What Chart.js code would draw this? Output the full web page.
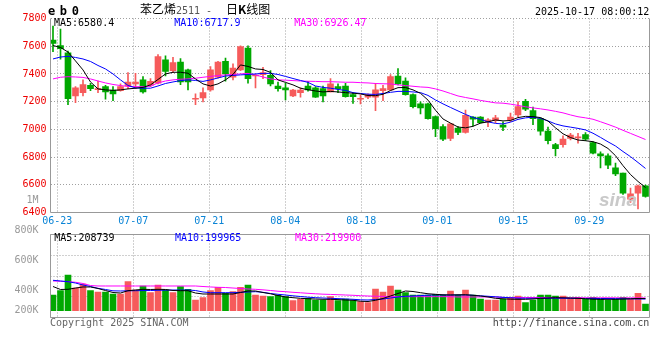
<!DOCTYPE html>
<html><head><meta charset="utf-8"><title>eb0 日K线图</title>
<script src="https://cdn.jsdelivr.net/npm/chart.js@4.4.1/dist/chart.umd.min.js"></script>
<style>
html,body{margin:0;padding:0;background:#fff;}
#wrap{position:relative;width:660px;height:360px;overflow:hidden;background:#fff;}
#wrap canvas{position:absolute;left:0;top:0;}
.t{position:absolute;white-space:nowrap;font-family:"DejaVu Sans Mono",monospace;font-size:10px;line-height:12px;color:#000;}
.cjk{font-family:"Noto Sans CJK SC",sans-serif;font-size:12px;line-height:14px;}
</style></head>
<body><div id="wrap">
<canvas id="priceChart" width="660" height="360"></canvas>
<canvas id="volChart" width="660" height="360"></canvas>
<div class="t" style="left:48px;top:4px;font-weight:bold;font-size:12px;line-height:14px;letter-spacing:4.6px;">eb0</div>
<div class="t cjk" style="left:140px;top:2px;">苯乙烯</div>
<div class="t" style="left:176px;top:5px;color:#555;">2511 -</div>
<div class="t cjk" style="left:226px;top:2px;">日<b>K</b>线图</div>
<div class="t" style="right:10.7px;top:5.5px;">2025-10-17 08:00:12</div>
<div class="t" id="pl5" style="left:54px;top:17px;color:#000;"></div>
<div class="t" id="pl10" style="left:174.3px;top:17px;color:#0000ff;"></div>
<div class="t" id="pl30" style="left:294.3px;top:17px;color:#ff00ff;"></div>
<div class="t" id="vl5" style="left:54.3px;top:232px;color:#000;"></div>
<div class="t" id="vl10" style="left:175px;top:232px;color:#0000ff;"></div>
<div class="t" id="vl30" style="left:295px;top:232px;color:#ff00ff;"></div>
<div class="t" style="left:599px;top:190px;font-family:'Liberation Sans',sans-serif;font-style:italic;font-weight:bold;font-size:19px;line-height:20px;color:#c9c9c9;">sina</div>
<div class="t" style="left:50px;top:316.5px;color:#666;">Copyright 2025 SINA.COM</div>
<div class="t" style="right:10.7px;top:317px;color:#444;">http://finance.sina.com.cn</div>
</div>
<script>
// ---- data ----
const dateLabels = ['06-23','07-07','07-21','08-04','08-18','09-01','09-15','09-29'];
const volTickLabels = ['1M','800K','600K','400K','200K'];
const volTickValues = [1000000, 800000, 600000, 400000, 200000];

const opens = [7645,7604,7553,7241,7265,7318,7287,7308,7284,7280,
7313,7328,7357,7318,7333,7501,7424,7486,7429,7217,
7227,7284,7376,7491,7376,7429,7587,7385,7395,7390,
7313,7299,7241,7265,7313,7299,7294,7270,7308,7313,
7251,7217,7232,7232,7280,7285,7385,7349,7251,7184,
7184,7092,7020,6934,7010,6977,7088,7088,7054,7063,
7030,7068,7104,7203,7135,7078,6987,6890,6890,6934,
6938,6962,6905,6823,6809,6722,6684,6497,6540,6593];
const highs = [7746,7724,7564,7308,7357,7333,7349,7318,7308,7328,
7409,7405,7380,7366,7539,7530,7520,7510,7435,7256,
7299,7453,7491,7515,7472,7602,7602,7395,7448,7424,
7342,7333,7288,7299,7347,7308,7313,7366,7328,7333,
7261,7249,7256,7333,7318,7395,7438,7371,7256,7198,
7190,7097,7034,7044,7020,7140,7092,7092,7078,7102,
7054,7117,7200,7217,7160,7083,7016,6900,6953,6972,
6972,6977,6910,6838,6823,6756,6684,6576,6598,6598];
const lows = [7561,7506,7179,7193,7241,7279,7265,7217,7207,7275,
7294,7294,7261,7308,7328,7385,7409,7323,7284,7179,
7198,7275,7370,7347,7357,7424,7333,7299,7366,7313,
7275,7212,7236,7232,7275,7230,7198,7270,7265,7232,
7188,7184,7222,7135,7207,7280,7321,7246,7155,7112,
7073,6948,6919,6919,6962,6972,7025,7044,7020,7049,
6991,7056,7092,7135,7034,6958,6895,6809,6871,6924,
6900,6919,6823,6722,6717,6665,6530,6472,6425,6511];
const closes = [7620,7583,7222,7299,7323,7294,7294,7270,7255,7308,
7342,7342,7270,7347,7525,7419,7481,7342,7342,7222,
7265,7429,7486,7400,7443,7597,7366,7390,7409,7328,
7294,7284,7284,7284,7284,7232,7241,7328,7294,7236,
7236,7222,7251,7285,7294,7380,7328,7251,7164,7155,
7078,7005,6929,7039,6977,7102,7073,7049,7068,7083,
7015,7088,7164,7145,7078,6987,6919,6861,6929,6958,
6943,6929,6828,6809,6742,6679,6540,6535,6593,6516];

const ma5 = [7605,7591,7558,7494,7429,7342,7292,7285,7281,7285,
7292,7297,7303,7321,7360,7400,7412,7412,7405,7364,
7328,7313,7328,7357,7396,7465,7454,7436,7432,7411,
7357,7339,7321,7297,7286,7277,7270,7274,7270,7265,
7261,7256,7244,7243,7253,7280,7301,7302,7285,7260,
7211,7138,7075,7045,7017,7011,7022,7045,7054,7068,
7061,7064,7085,7094,7092,7085,7060,7011,6968,6941,
6923,6918,6911,6894,6862,6810,6738,6674,6624,6580.4];
const ma10 = [7508,7522,7527,7519,7508,7490,7461,7436,7400,7357,
7317,7299,7297,7297,7313,7331,7342,7352,7357,7353,
7346,7357,7371,7385,7389,7393,7396,7400,7404,7404,
7396,7382,7367,7353,7339,7313,7303,7297,7288,7281,
7265,7259,7254,7252,7259,7267,7274,7274,7270,7265,
7245,7212,7184,7158,7133,7108,7086,7072,7054,7043,
7039,7052,7072,7083,7088,7079,7061,7039,7025,7016,
7007,6996,6972,6942,6910,6880,6840,6803,6761,6717.9];
const ma30 = [7364,7376,7380,7378,7375,7364,7349,7335,7324,7316,
7310,7308,7308,7311,7335,7349,7357,7362,7364,7369,
7376,7382,7388,7393,7396,7400,7404,7393,7378,7364,
7357,7355,7352,7349,7347,7346,7344,7344,7342,7340,
7340,7337,7335,7331,7329,7328,7321,7316,7311,7306,
7303,7292,7277,7259,7241,7230,7220,7209,7200,7191,
7189,7182,7173,7163,7155,7148,7140,7130,7119,7104,
7091,7083,7073,7055,7036,7016,6993,6971,6949,6926.47];

const volumes = [270000,344000,614000,390000,459000,344000,322000,322000,287000,287000,
499000,356000,425000,310000,442000,356000,310000,413000,366000,184000,
224000,344000,401000,298000,327000,401000,442000,270000,253000,241000,
263000,241000,172000,194000,212000,184000,184000,241000,172000,201000,
172000,155000,138000,373000,322000,425000,356000,310000,270000,270000,
270000,280000,270000,339000,270000,356000,270000,201000,184000,184000,
201000,229000,253000,138000,184000,270000,270000,253000,253000,212000,
229000,194000,229000,194000,184000,194000,229000,194000,298000,115000];
const volMa5 = [416000,365000,368000,390000,408000,408000,382000,347000,313000,304000,
344000,356000,368000,365000,368000,365000,347000,344000,344000,304000,
287000,287000,287000,287000,287000,313000,339000,339000,313000,291000,
261000,236000,224000,213000,206000,201000,196000,196000,191000,184000,
179000,163000,158000,179000,210000,253000,296000,339000,330000,310000,
291000,282000,273000,270000,273000,275000,265000,253000,236000,213000,
205000,198000,196000,196000,201000,213000,218000,224000,222000,218000,
213000,205000,198000,196000,196000,196000,200000,205000,210000,208739];
const volMa10 = [523000,511000,499000,476000,442000,416000,385000,365000,342000,339000,
342000,344000,346000,347000,351000,353000,356000,356000,356000,347000,
322000,310000,310000,310000,310000,316000,322000,327000,316000,296000,
282000,270000,256000,244000,232000,224000,218000,213000,208000,201000,
196000,187000,184000,193000,201000,218000,236000,248000,253000,260000,
267000,270000,270000,270000,270000,270000,265000,256000,248000,239000,
230000,222000,215000,213000,213000,213000,214000,215000,214000,213000,
212000,211000,211000,210000,209000,208000,206000,204000,202000,199965];
const volMa30 = [511000,506000,499000,489000,468000,433000,425000,425000,425000,425000,
425000,425000,425000,425000,425000,425000,425000,425000,425000,425000,
416000,408000,402000,399000,390000,382000,373000,368000,359000,347000,
335000,327000,316000,308000,299000,291000,284000,280000,275000,270000,
265000,258000,253000,249000,246000,243000,241000,241000,241000,241000,
241000,241000,241000,241000,236000,236000,236000,236000,236000,236000,
227000,227000,227000,227000,227000,227000,227000,222000,222000,222000,
222000,222000,222000,222000,222000,222000,221000,221000,220000,219900];

// ---- legend texts from the data ----
const last = a => a[a.length - 1];
document.getElementById('pl5').textContent = 'MA5:' + last(ma5);
document.getElementById('pl10').textContent = 'MA10:' + last(ma10);
document.getElementById('pl30').textContent = 'MA30:' + last(ma30);
document.getElementById('vl5').textContent = 'MA5:' + last(volMa5);
document.getElementById('vl10').textContent = 'MA10:' + last(volMa10);
document.getElementById('vl30').textContent = 'MA30:' + last(volMa30);

// ---- styling / layout ----
const UP = '#f65b5b', DOWN = '#00a800';
const candleColors = closes.map((c, i) => c >= opens[i] ? UP : DOWN);
const X_MIN = -0.333, X_MAX = 79.533;
const GRID_START = 0.57, GRID_STEP = 10.133;
const MONO = '"DejaVu Sans Mono", monospace';
const GRID = '#a0a0a0';
const FRAME = '#999999';
const VOL_LABEL_FLOOR = 267800;

const pts = arr => arr.map((v, i) => ({x: i, y: v}));
function dateTicks(scale) {
  scale.ticks = dateLabels.map((_, k) => ({value: GRID_START + k * GRID_STEP}));
}
function volLabelTicks(scale) {
  scale.ticks = volTickValues.map(v => ({value: Math.max(v, VOL_LABEL_FLOOR)}));
}
const fixWidth = w => s => { s.width = w; };
const fixHeight = h => s => { s.height = h; };

const framePlugin = {
  id: 'frame',
  afterDraw(chart, args, opts) {
    const {ctx, chartArea: a} = chart;
    ctx.save();
    ctx.strokeStyle = opts.color;
    ctx.lineWidth = 1;
    ctx.beginPath();
    ctx.moveTo(a.left, a.top); ctx.lineTo(a.left, a.bottom);
    ctx.moveTo(a.right, a.top); ctx.lineTo(a.right, a.bottom);
    ctx.moveTo(a.left, a.bottom); ctx.lineTo(a.right, a.bottom);
    if (opts.top) { ctx.moveTo(a.left, a.top); ctx.lineTo(a.right, a.top); }
    ctx.stroke();
    ctx.restore();
  }
};

const lineDs = (label, data, color, axis) => ({
  type: 'line', label, data: pts(data), borderColor: color, borderWidth: 1,
  pointRadius: 0, tension: 0, order: 0, yAxisID: axis
});

const common = {
  responsive: false, animation: false, events: [],
};

// ---- price (K-line) panel ----
new Chart(document.getElementById('priceChart'), {
  type: 'bar',
  data: {
    datasets: [
      lineDs('MA5', ma5, '#000000', 'y'),
      lineDs('MA10', ma10, '#0000ff', 'y'),
      lineDs('MA30', ma30, '#ff00ff', 'y'),
      {type: 'bar', label: 'body', data: opens.map((o, i) => ({x: i, y: [o, closes[i]]})),
       backgroundColor: candleColors, barThickness: 6, minBarLength: 1, grouped: false, order: 1},
      {type: 'bar', label: 'wick', data: lows.map((l, i) => ({x: i, y: [l, highs[i]]})),
       backgroundColor: candleColors, barThickness: 1, grouped: false, order: 2}
    ]
  },
  options: Object.assign({}, common, {
    layout: {padding: {top: 18.5, right: 10.5, bottom: 128, left: 0}},
    plugins: {legend: {display: false}, tooltip: {enabled: false}, frame: {color: FRAME, top: false}},
    scales: {
      x: {type: 'linear', position: 'bottom', min: X_MIN, max: X_MAX, bounds: 'data', offset: false,
          afterBuildTicks: dateTicks, afterFit: fixHeight(19.5),
          ticks: {autoSkip: false, maxRotation: 0, padding: 3, color: '#0a84d6',
                  font: {family: MONO, size: 10}, callback: (v, i) => dateLabels[i]},
          grid: {color: GRID, drawTicks: false, offset: false},
          border: {display: false, dash: [1, 2]}},
      y: {type: 'linear', position: 'left', min: 6400, max: 7800, afterFit: fixWidth(50.5),
          ticks: {stepSize: 200, padding: 4, color: '#ee0000', autoSkip: false,
                  font: {family: MONO, size: 10}, callback: v => String(v)},
          grid: {color: GRID, drawTicks: false},
          border: {display: false, dash: [1, 2]}}
    }
  }),
  plugins: [framePlugin]
});

// ---- volume panel ----
new Chart(document.getElementById('volChart'), {
  type: 'bar',
  data: {
    datasets: [
      lineDs('VMA5', volMa5, '#000000', 'y'),
      lineDs('VMA10', volMa10, '#0000ff', 'y'),
      lineDs('VMA30', volMa30, '#ff00ff', 'y'),
      {type: 'bar', label: 'volume', data: volumes.map((v, i) => ({x: i, y: v})),
       backgroundColor: candleColors, barThickness: 6, grouped: false, order: 1, yAxisID: 'y'}
    ]
  },
  options: Object.assign({}, common, {
    layout: {padding: {top: 234.5, right: 10.5, bottom: 42.5, left: 0}},
    plugins: {legend: {display: false}, tooltip: {enabled: false}, frame: {color: FRAME, top: true}},
    scales: {
      x: {type: 'linear', position: 'bottom', min: X_MIN, max: X_MAX, bounds: 'data', offset: false,
          afterBuildTicks: dateTicks, afterFit: fixHeight(0),
          ticks: {display: false},
          grid: {color: GRID, drawTicks: false, offset: false},
          border: {display: false, dash: [1, 2]}},
      y: {type: 'linear', display: false, min: -117000, max: 1310600},
      yl: {type: 'linear', position: 'left', min: 217400, max: 774500, afterFit: fixWidth(50.5),
           afterBuildTicks: volLabelTicks,
           ticks: {autoSkip: false, padding: 4, color: '#999999', font: {family: MONO, size: 10},
                   callback: (v, i) => volTickLabels[i]},
           grid: {display: false}, border: {display: false}},
      yg: {type: 'linear', position: 'right', min: 0, max: 4, afterFit: fixWidth(0),
           ticks: {display: false, stepSize: 1},
           grid: {color: GRID, drawTicks: false},
           border: {display: false, dash: [1, 2]}}
    }
  }),
  plugins: [framePlugin]
});
</script>
</body></html>
